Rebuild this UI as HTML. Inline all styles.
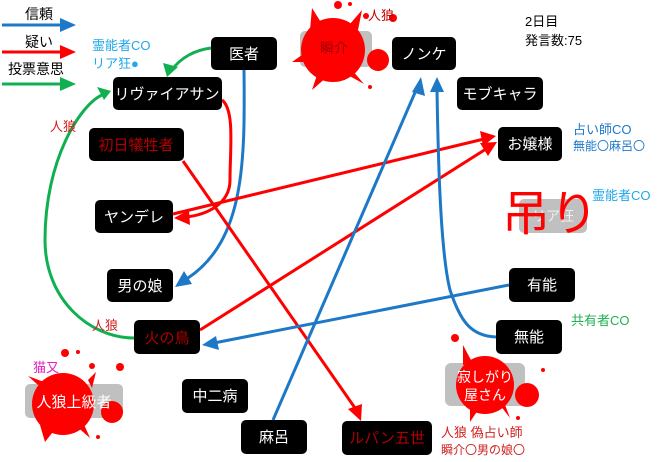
<!DOCTYPE html>
<html><head><meta charset="utf-8"><style>
body{margin:0;background:#fff;}
svg text{font-family:"Liberation Sans","Noto Sans CJK JP",sans-serif;}
</style></head><body>
<svg width="660" height="457" viewBox="0 0 660 457" xmlns="http://www.w3.org/2000/svg">
<rect width="660" height="457" fill="#fff"/>

<!-- blobs & gray boxes -->
<rect x="300" y="31" width="72" height="36" rx="5" fill="#c0c0c0"/>
<circle cx="333" cy="50" r="32" fill="#f00"/>
<path d="M310,30 L312,8 L322,24 Z M350,24 L362,10 L358,30 Z M318,72 L312,90 L328,76 Z M352,70 L364,84 L346,74Z M302,55 L292,62 L304,62Z" fill="#f00"/>
<circle cx="378" cy="60" r="11" fill="#f00"/>
<circle cx="338" cy="5" r="4" fill="#f00"/><circle cx="350" cy="4" r="2" fill="#f00"/><circle cx="366" cy="16" r="3" fill="#f00"/><circle cx="393" cy="18" r="4" fill="#f00"/><circle cx="370" cy="87" r="2" fill="#f00"/>
<text x="334" y="53" font-size="14" fill="#a00000" text-anchor="middle">瞬介</text>
<text x="368" y="20" font-size="13" fill="#c00000">人狼</text>

<rect x="25" y="384" width="98" height="34" rx="5" fill="#c0c0c0"/>
<circle cx="63" cy="404" r="31" fill="#f00"/>
<path d="M40,425 L45,442 L56,428Z M75,425 L90,438 L82,420Z M38,385 L28,376 L44,382Z M88,380 L96,372 L92,388Z" fill="#f00"/>
<circle cx="112" cy="412" r="11" fill="#f00"/>
<circle cx="65" cy="353" r="4" fill="#f00"/><circle cx="78" cy="352" r="2" fill="#f00"/><circle cx="92" cy="366" r="3" fill="#f00"/><circle cx="120" cy="367" r="4" fill="#f00"/><circle cx="98" cy="437" r="2" fill="#f00"/>
<text x="74" y="407" font-size="15" fill="#fff" text-anchor="middle">人狼上級者</text>
<text x="33" y="372" font-size="13" fill="#e020c0">猫又</text>

<rect x="445" y="363" width="80" height="43" rx="6" fill="#c0c0c0"/>
<circle cx="485" cy="385" r="29" fill="#f00"/>
<path d="M463,365 L463,345 L472,362Z M470,408 L470,422 L478,410Z M500,405 L510,418 L504,402Z" fill="#f00"/>
<circle cx="527" cy="395" r="12" fill="#f00"/>
<circle cx="455" cy="338" r="4" fill="#f00"/><circle cx="543" cy="370" r="2" fill="#f00"/><circle cx="518" cy="418" r="2" fill="#f00"/>
<text x="485" y="382" font-size="14" fill="#fff" text-anchor="middle">寂しがり</text>
<text x="485" y="400" font-size="14" fill="#fff" text-anchor="middle">屋さん</text>

<rect x="519" y="199" width="68" height="34" rx="5" fill="#c0c0c0"/>
<text x="553" y="221" font-size="14" fill="#eee" text-anchor="middle">リア狂</text>

<!-- legend -->
<text x="25" y="19" font-size="14" fill="#000">信頼</text>
<text x="25" y="47" font-size="14" fill="#000">疑い</text>
<text x="8" y="74" font-size="14" fill="#000">投票意思</text>
<line x1="2" y1="25" x2="62" y2="25" stroke="#1e78c8" stroke-width="3"/><polygon points="60,18 76,25 60,32" fill="#1e78c8"/>
<line x1="2" y1="52" x2="62" y2="52" stroke="#f00" stroke-width="3"/><polygon points="60,45 76,52 60,59" fill="#f00"/>
<line x1="2" y1="84" x2="62" y2="84" stroke="#10b050" stroke-width="3"/><polygon points="60,77 76,84 60,91" fill="#10b050"/>

<!-- connectors -->
<g fill="none" stroke-width="3">
<path d="M211,48 C195,50 180,58 172,70" stroke="#10b050"/>
<path d="M134,338 C90,338 45,300 45,240 C45,160 80,105 102,95" stroke="#10b050"/>
<path d="M244,70 C245,160 245,240 188,278" stroke="#1e78c8"/>
<path d="M222,100 C235,110 230,150 230,180 C230,205 205,215 186,217" stroke="#f00"/>
<line x1="173" y1="214" x2="484" y2="139" stroke="#f00"/>
<line x1="200" y1="330" x2="486" y2="149" stroke="#f00"/>
<line x1="183" y1="161" x2="355" y2="408" stroke="#f00"/>
<line x1="273" y1="420" x2="417" y2="88" stroke="#1e78c8"/>
<path d="M496,337 C470,336 460,320 450,290 C440,250 438,150 437,90" stroke="#1e78c8"/>
<line x1="509" y1="285" x2="214" y2="343" stroke="#1e78c8"/>
</g>
<polygon points="167,77 163,63 178,67" fill="#10b050"/>
<polygon points="111,91 97,87 104,100" fill="#10b050"/>
<polygon points="175,287 184,271 192,284" fill="#1e78c8"/>
<polygon points="174,218 189,210 190,225" fill="#f00"/>
<polygon points="496,136 480,131 483,146" fill="#f00"/>
<polygon points="497,142 480,143 488,156" fill="#f00"/>
<polygon points="361,421 348,409 362,404" fill="#f00"/>
<polygon points="421,77 412,92 425,96" fill="#1e78c8"/>
<polygon points="437,77 430,92 444,92" fill="#1e78c8"/>
<polygon points="202,345 216,336 219,350" fill="#1e78c8"/>

<!-- nodes -->
<g font-size="15" text-anchor="middle">
<rect x="211" y="37" width="66" height="33" rx="5" fill="#000"/><text x="244" y="59" fill="#fff">医者</text>
<rect x="113" y="77" width="109" height="33" rx="5" fill="#000"/><text x="167" y="99" fill="#fff">リヴァイアサン</text>
<rect x="89" y="128" width="95" height="33" rx="5" fill="#000"/><text x="136" y="150" fill="#b00000">初日犠牲者</text>
<rect x="95" y="200" width="78" height="33" rx="5" fill="#000"/><text x="134" y="222" fill="#fff">ヤンデレ</text>
<rect x="107" y="269" width="66" height="33" rx="5" fill="#000"/><text x="140" y="291" fill="#fff">男の娘</text>
<rect x="134" y="320" width="66" height="34" rx="5" fill="#000"/><text x="167" y="343" fill="#b00000">火の鳥</text>
<rect x="182" y="379" width="66" height="34" rx="5" fill="#000"/><text x="215" y="401" fill="#fff">中二病</text>
<rect x="241" y="420" width="66" height="34" rx="5" fill="#000"/><text x="274" y="442" fill="#fff">麻呂</text>
<rect x="342" y="421" width="90" height="34" rx="5" fill="#000"/><text x="387" y="443" fill="#b00000">ルパン五世</text>
<rect x="392" y="37" width="64" height="33" rx="5" fill="#000"/><text x="424" y="59" fill="#fff">ノンケ</text>
<rect x="457" y="77" width="86" height="33" rx="5" fill="#000"/><text x="500" y="99" fill="#fff">モブキャラ</text>
<rect x="498" y="127" width="64" height="34" rx="5" fill="#000"/><text x="530" y="149" fill="#fff">お嬢様</text>
<rect x="509" y="268" width="66" height="34" rx="5" fill="#000"/><text x="542" y="290" fill="#fff">有能</text>
<rect x="496" y="320" width="66" height="34" rx="5" fill="#000"/><text x="529" y="342" fill="#fff">無能</text>
</g>

<!-- annotations -->
<text x="92" y="50" font-size="13" fill="#20a8e8">霊能者CO</text>
<text x="92" y="68" font-size="13" fill="#20a8e8">リア狂●</text>
<text x="50" y="131" font-size="13" fill="#d02020">人狼</text>
<text x="92" y="330" font-size="13" fill="#d02020">人狼</text>
<text x="525" y="26" font-size="13" fill="#000">2日目</text>
<text x="525" y="45" font-size="13" fill="#000">発言数:75</text>
<text x="573" y="134" font-size="13" fill="#1e78c8">占い師CO</text>
<text x="573" y="150" font-size="12" fill="#1e78c8">無能〇麻呂〇</text>
<text x="592" y="200" font-size="13" fill="#20a8e8">霊能者CO</text>
<text x="502" y="230" font-size="48" fill="#f00">吊り</text>
<text x="571" y="325" font-size="13" fill="#20b050">共有者CO</text>
<text x="441" y="437" font-size="13" fill="#d02020">人狼 偽占い師</text>
<text x="441" y="454" font-size="12" fill="#d02020">瞬介〇男の娘〇</text>
</svg>
</body></html>
